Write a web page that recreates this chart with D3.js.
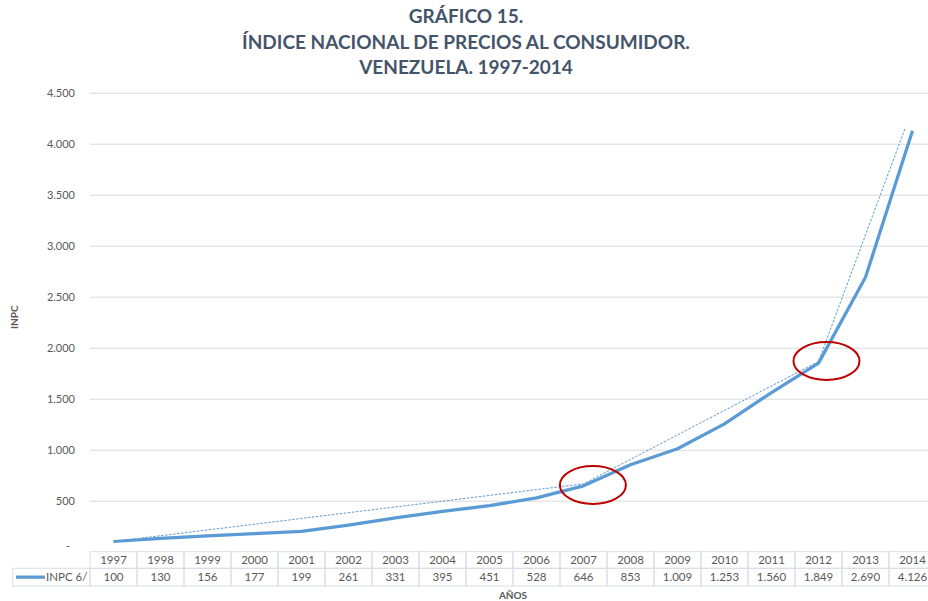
<!DOCTYPE html>
<html>
<head>
<meta charset="utf-8">
<script src="https://cdn.jsdelivr.net/npm/d3@7"></script>
<style>
  body { margin: 0; background: #fff; }
  svg { display: block; font-family: Lato, "Open Sans", sans-serif; }
</style>
</head>
<body>
<div id="chart"></div>
<script>
// data
var years = [1997, 1998, 1999, 2000, 2001, 2002, 2003, 2004, 2005, 2006, 2007, 2008, 2009, 2010, 2011, 2012, 2013, 2014];
var inpc = [100, 130, 156, 177, 199, 261, 331, 395, 451, 528, 646, 853, 1009, 1253, 1560, 1849, 2690, 4126];
var yTicks = [0, 500, 1000, 1500, 2000, 2500, 3000, 3500, 4000, 4500];
// dotted trend drawn by hand in the original
var trendYears = [1997, 2007, 2012, 2013.85];
var trendValues = [100, 665, 1865, 4160];
// red circles marking the breaks
var markYears = [2007.2, 2012.17];
var markValues = [654, 1870];
var titleLines = ["GRÁFICO 15.", "ÍNDICE NACIONAL DE PRECIOS AL CONSUMIDOR.", "VENEZUELA. 1997-2014"];
var seriesName = "INPC 6/";

var w = 928, h = 601;
var plotL = 90, plotR = 936, plotT = 92.7, plotB = 551.7;
var blue = "#5B9BD5", grey = "#595959", titleCol = "#44546A";

var es = d3.formatLocale({decimal: ",", thousands: ".", grouping: [3], currency: ["", ""]});
var fmt = es.format(",d");

var svg = d3.select("#chart").append("svg")
	.attr("width", w)
	.attr("height", h)

var x = d3.scaleLinear()
	.domain([years[0] - 0.5, years[years.length - 1] + 0.5])
	.range([plotL, plotR])

var y = d3.scaleLinear()
	.domain([0, 4500])
	.range([plotB, plotT])

// title
svg.selectAll(".title")
	.data(titleLines)
	.enter()
	.append("text")
	.attr("class", "title")
	.attr("x", 466)
	.attr("y", function(d, i) { return 23 + i * 25.5 })
	.attr("text-anchor", "middle")
	.style("font-size", "19px")
	.style("font-weight", 700)
	.style("fill", titleCol)
	.text(function(d) { return d })

// grid + y labels
var yAxis = d3.axisLeft(y)
	.tickValues(yTicks)
	.tickSize(-(plotR - plotL))
	.tickPadding(15)
	.tickFormat(function(d) { return d == 0 ? "-" : fmt(d) })

var gy = svg.append("g")
	.attr("transform", "translate(" + plotL + ",0)")
	.call(yAxis)

gy.select(".domain").remove();
gy.selectAll(".tick line")
	.attr("stroke", "#D9D9D9")
	.attr("stroke-width", 1)
gy.selectAll(".tick text")
	.style("font-family", "Lato, sans-serif")
	.style("font-size", "11px")
	.style("fill", grey)
gy.selectAll(".tick")
	.filter(function(d) { return d == 0 })
	.select("text")
	.attr("x", -20)
	.attr("dy", "-0.2em")
gy.selectAll(".tick")
	.filter(function(d) { return d == 0 })
	.select("line").remove();

svg.append("text")
	.attr("transform", "translate(18," + ((plotT + plotB) / 2 - 5) + ") rotate(-90)")
	.attr("text-anchor", "middle")
	.style("font-size", "10px")
	.style("font-weight", 700)
	.style("fill", grey)
	.text("INPC")

// trend (dotted)
var trend = trendYears.map(function(d, i) { return [d, trendValues[i]] });
svg.append("path")
	.datum(trend)
	.attr("d", d3.line()
		.x(function(d) { return x(d[0]) })
		.y(function(d) { return y(d[1]) }))
	.attr("fill", "none")
	.attr("stroke", blue)
	.attr("stroke-width", 1)
	.attr("stroke-dasharray", "2.5,1.5")

// series
var series = years.map(function(d, i) { return [d, inpc[i]] });
svg.append("path")
	.datum(series)
	.attr("d", d3.line()
		.x(function(d) { return x(d[0]) })
		.y(function(d) { return y(d[1]) }))
	.attr("fill", "none")
	.attr("stroke", blue)
	.attr("stroke-width", 3.25)
	.attr("stroke-linejoin", "round")

// red ellipses
svg.selectAll(".mark")
	.data(markYears)
	.enter()
	.append("ellipse")
	.attr("class", "mark")
	.attr("cx", function(d) { return x(d) })
	.attr("cy", function(d, i) { return y(markValues[i]) })
	.attr("rx", 33)
	.attr("ry", 19)
	.attr("fill", "none")
	.attr("stroke", "#C00000")
	.attr("stroke-width", 2)

// data table
var row1 = plotB, row2 = 568.3, row3 = 586;
var colW = x(1998) - x(1997);
var border = "#D9DEE6";

var t = svg.append("g").attr("class", "table");

t.selectAll(".hcell")
	.data(years)
	.enter()
	.append("rect")
	.attr("x", function(d) { return x(d) - colW / 2 })
	.attr("y", row1)
	.attr("width", colW)
	.attr("height", row2 - row1)
	.attr("fill", "none")
	.attr("stroke", border)

t.selectAll(".dcell")
	.data(years)
	.enter()
	.append("rect")
	.attr("x", function(d) { return x(d) - colW / 2 })
	.attr("y", row2)
	.attr("width", colW)
	.attr("height", row3 - row2)
	.attr("fill", "none")
	.attr("stroke", border)

t.append("rect")
	.attr("x", 12.7)
	.attr("y", row2)
	.attr("width", plotL - 12.7)
	.attr("height", row3 - row2)
	.attr("fill", "none")
	.attr("stroke", border)

t.selectAll(".year")
	.data(years)
	.enter()
	.append("text")
	.attr("x", function(d) { return x(d) })
	.attr("y", row2 - 4)
	.attr("text-anchor", "middle")
	.style("font-size", "11.5px")
	.style("fill", grey)
	.text(function(d) { return d })

t.selectAll(".val")
	.data(inpc)
	.enter()
	.append("text")
	.attr("x", function(d, i) { return x(years[i]) })
	.attr("y", row3 - 5)
	.attr("text-anchor", "middle")
	.style("font-size", "11.5px")
	.style("fill", grey)
	.text(function(d) { return fmt(d) })

t.append("line")
	.attr("x1", 16)
	.attr("x2", 45)
	.attr("y1", (row2 + row3) / 2)
	.attr("y2", (row2 + row3) / 2)
	.attr("stroke", blue)
	.attr("stroke-width", 3.25)

t.append("text")
	.attr("x", 46)
	.attr("y", row3 - 5)
	.style("font-size", "11.5px")
	.style("fill", grey)
	.text(seriesName)

svg.append("text")
	.attr("x", (plotL + plotR) / 2)
	.attr("y", 599)
	.attr("text-anchor", "middle")
	.style("font-size", "10px")
	.style("font-weight", 700)
	.style("fill", grey)
	.text("AÑOS")
</script>
</body>
</html>
